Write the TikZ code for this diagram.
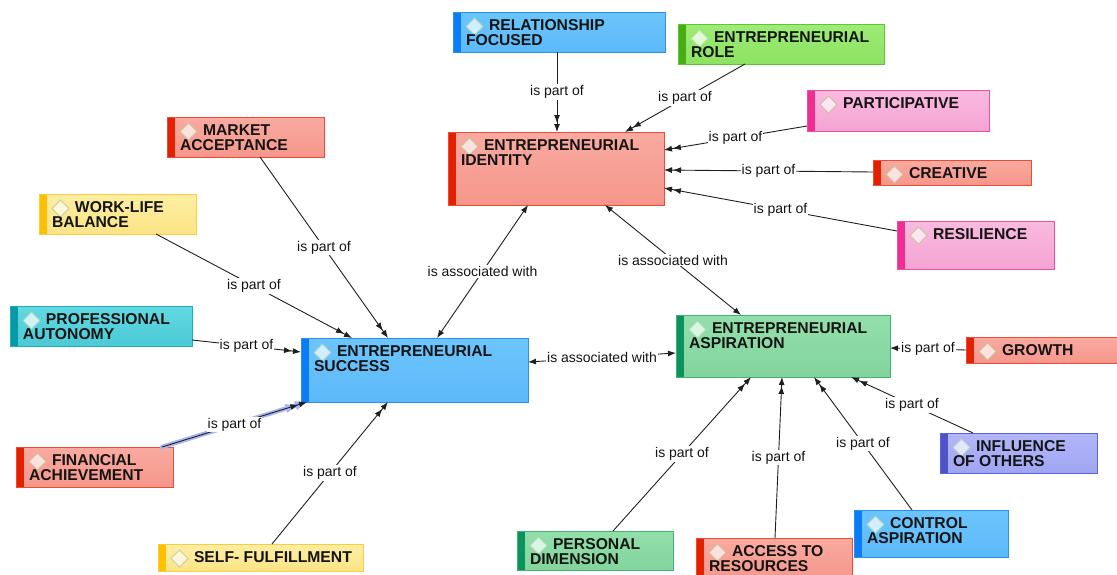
\documentclass[tikz,border=0pt]{standalone}
\usepackage{fontspec}
\setmainfont{Liberation Sans}
\usetikzlibrary{arrows.meta,calc}

% palette: fill top / fill bottom / border / left bar / icon fill / icon line
\definecolor{kredtop}{HTML}{F9AAA0}\definecolor{kredbot}{HTML}{F6968B}
\definecolor{kredline}{HTML}{EE4A34}\definecolor{kredbar}{HTML}{E32000}
\definecolor{kreddfill}{HTML}{FCE2DE}\definecolor{kreddline}{HTML}{C9C49C}
\definecolor{kbluetop}{HTML}{6CC5FC}\definecolor{kbluebot}{HTML}{5CB9F9}
\definecolor{kblueline}{HTML}{2A8EF5}\definecolor{kbluebar}{HTML}{0A7CF6}
\definecolor{kbluedfill}{HTML}{D2EEFD}\definecolor{kbluedline}{HTML}{A8D6C4}
\definecolor{kgreentop}{HTML}{9DEC76}\definecolor{kgreenbot}{HTML}{8DE262}
\definecolor{kgreenline}{HTML}{5DC630}\definecolor{kgreenbar}{HTML}{48AC15}
\definecolor{kgreendfill}{HTML}{E2FAD6}\definecolor{kgreendline}{HTML}{B6DFA0}
\definecolor{kpinktop}{HTML}{F9BADF}\definecolor{kpinkbot}{HTML}{F5A4D3}
\definecolor{kpinkline}{HTML}{F04EA5}\definecolor{kpinkbar}{HTML}{F02D92}
\definecolor{kpinkdfill}{HTML}{FCE6F3}\definecolor{kpinkdline}{HTML}{C9C49C}
\definecolor{kyellowtop}{HTML}{FDEEA2}\definecolor{kyellowbot}{HTML}{FBE486}
\definecolor{kyellowline}{HTML}{FDCB3C}\definecolor{kyellowbar}{HTML}{FDC000}
\definecolor{kyellowdfill}{HTML}{FDF8DC}\definecolor{kyellowdline}{HTML}{C9D09C}
\definecolor{ktealtop}{HTML}{62D8E2}\definecolor{ktealbot}{HTML}{4ACAD5}
\definecolor{ktealline}{HTML}{1FB0BE}\definecolor{ktealbar}{HTML}{079AA5}
\definecolor{ktealdfill}{HTML}{D2F3F6}\definecolor{ktealdline}{HTML}{A8D6C4}
\definecolor{kminttop}{HTML}{93DFAB}\definecolor{kmintbot}{HTML}{82D49C}
\definecolor{kmintline}{HTML}{42B377}\definecolor{kmintbar}{HTML}{0A935C}
\definecolor{kmintdfill}{HTML}{DAF6E2}\definecolor{kmintdline}{HTML}{B0DDB8}
\definecolor{klavtop}{HTML}{B2B6F9}\definecolor{klavbot}{HTML}{A0A5F2}
\definecolor{klavline}{HTML}{5C61DC}\definecolor{klavbar}{HTML}{4F53C9}
\definecolor{klavdfill}{HTML}{E4E6FC}\definecolor{klavdline}{HTML}{B8D6C4}
\definecolor{glowc}{HTML}{A9B4F2}

\tikzset{
  concept/.style={draw=#1line, top color=#1top, bottom color=#1bot,
    line width=0.9pt, inner sep=0pt, outer sep=0pt,
    path picture={\fill[#1bar] (path picture bounding box.north west)
      rectangle ([xshift=8pt]path picture bounding box.south west);}},
  icon/.style={draw=#1dline, fill=#1dfill, line width=1pt, line join=miter},
  ctext/.style={font=\fontsize{15.7}{15}\selectfont\bfseries, align=left,
    inner sep=0pt, outer sep=0pt, text=black!92, anchor=north west},
  tip/.tip={Latex[length=8pt,width=6pt]},
  conn/.style={draw=black!88, line width=0.9pt, -{tip[sep=1pt]tip}},
  assoc/.style={draw=black!88, line width=0.9pt, {tip}-{tip}},
  glow/.style={draw=glowc, line width=4.5pt, line cap=round,
    -{Latex[length=12pt,width=10pt,sep=-2pt]Latex[length=12pt,width=10pt]}},
  lbl/.style={font=\fontsize{14}{14}\selectfont, fill=white, inner sep=1pt,
    text=black!92, midway}
}

% concept box: name, palette, left, top, width, height, first line, rest
\newcommand\concept[8]{%
  \node[concept=#2, minimum width=#5, minimum height=#6, anchor=north west]
    (#1) at (#3,#4) {};
  \draw[icon=#2] ($(#1.north west)+(21.5,14.5)$) +(-8.5,0) -- +(0,-8.5)
    -- +(8.5,0) -- +(0,8.5) -- cycle;
  \node[ctext] (#1-t) at ($(#1.north west)+(13,6)$)
    {\rule{0pt}{12pt}\hspace*{23pt}#7#8};
}

\begin{document}
\begin{tikzpicture}[x=1pt,y=-1pt]
\useasboundingbox (0,0) rectangle (1117,574);

% concepts
\concept{rel}{kblue}{453}{12}{212}{40}{RELATIONSHIP}{\\FOCUSED}
\concept{role}{kgreen}{678}{24}{206}{40}{ENTREPRENEURIAL}{\\ROLE}
\concept{part}{kpink}{807}{90}{182}{41}{PARTICIPATIVE}{}
\concept{creat}{kred}{873}{160}{158}{25}{CREATIVE}{}
\concept{resil}{kpink}{897}{221}{157}{48}{RESILIENCE}{}
\concept{ident}{kred}{448}{132}{216}{73}{ENTREPRENEURIAL}{\\IDENTITY}
\concept{market}{kred}{167}{117}{157}{40}{MARKET}{\\ACCEPTANCE}
\concept{wl}{kyellow}{39}{194}{157}{40}{WORK-LIFE}{\\BALANCE}
\concept{prof}{kteal}{10}{306}{182}{40}{PROFESSIONAL}{\\AUTONOMY}
\concept{succ}{kblue}{301}{338}{227}{64}{ENTREPRENEURIAL}{\\SUCCESS}
\concept{fin}{kred}{16}{447}{157}{40}{FINANCIAL}{\\ACHIEVEMENT}
\concept{self}{kyellow}{158}{544}{205}{27}{SELF- FULFILLMENT}{}
\concept{pers}{kmint}{517}{531}{156}{39}{PERSONAL}{\\DIMENSION}
\concept{acc}{kred}{696}{538}{156}{42}{ACCESS TO}{\\RESOURCES}
\concept{ctrl}{kblue}{854}{510}{154}{47}{CONTROL}{\\ASPIRATION}
\concept{asp}{kmint}{676}{315}{214}{62}{ENTREPRENEURIAL}{\\ASPIRATION}
\concept{growth}{kred}{966}{337}{156}{26}{GROWTH}{}
\concept{infl}{klav}{940}{433}{157}{40}{INFLUENCE}{\\OF OTHERS}

% parts of the identity
\draw[conn] ($(rel.south west)+(104,0)$) -- node[lbl]{is part of} ($(ident.north west)+(109,0)$);
\draw[conn] ($(role.south west)+(67,0)$) -- node[lbl]{is part of} ($(ident.north west)+(177,0)$);
\draw[conn] ($(part.north west)+(0,36)$) -- node[lbl]{is part of} ($(ident.north east)+(0,18)$);
\draw[conn] ($(creat.north west)+(0,12)$) -- node[lbl]{is part of} ($(ident.north east)+(0,38)$);
\draw[conn] ($(resil.north west)+(0,10)$) -- node[lbl]{is part of} ($(ident.north east)+(0,56)$);

% parts of the success
\draw[conn] ($(market.south west)+(93,0)$) -- node[lbl]{is part of} ($(succ.north west)+(87,0)$);
\draw[conn] ($(wl.south west)+(117,0)$) -- node[lbl]{is part of} ($(succ.north west)+(51,0)$);
\draw[conn] ($(prof.north east)+(0,34)$) -- node[lbl]{is part of} ($(succ.north west)+(0,14)$);
\draw[glow] ($(fin.north west)+(146,0)$) -- ($(succ.south west)+(6,0)$);
\draw[conn] ($(fin.north west)+(146,0)$) -- node[lbl]{is part of} ($(succ.south west)+(6,0)$);
\draw[conn] ($(self.north west)+(114,0)$) -- node[lbl]{is part of} ($(succ.south west)+(87,0)$);

% associations between the three cores
\draw[assoc] ($(succ.north west)+(136,0)$) -- node[lbl]{is associated with} ($(ident.south west)+(80,0)$);
\draw[assoc] ($(ident.south west)+(157,0)$) -- node[lbl]{is associated with} ($(asp.north west)+(65,0)$);
\draw[assoc] ($(succ.north east)+(0,24)$) -- node[lbl]{is associated with} ($(asp.north west)+(0,38)$);

% parts of the aspiration
\draw[conn] ($(growth.north west)+(0,13)$) -- node[lbl]{is part of} ($(asp.north east)+(0,33)$);
\draw[conn] ($(infl.north west)+(33,0)$) -- node[lbl]{is part of} ($(asp.south west)+(175,0)$);
\draw[conn] ($(ctrl.north west)+(58,0)$) -- node[lbl]{is part of} ($(asp.south west)+(138,0)$);
\draw[conn] ($(acc.north west)+(79,0)$) -- node[lbl]{is part of} ($(asp.south west)+(106,0)$);
\draw[conn] ($(pers.north west)+(96,0)$) -- node[lbl]{is part of} ($(asp.south west)+(75,0)$);
\end{tikzpicture}
\end{document}
